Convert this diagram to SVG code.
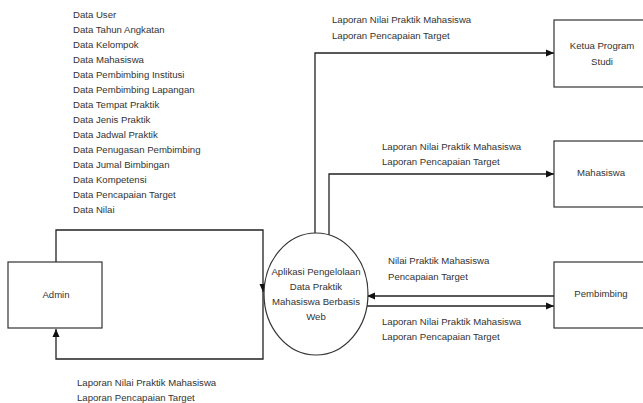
<svg xmlns="http://www.w3.org/2000/svg" width="643" height="403" viewBox="0 0 643 403">
<style>
.box{fill:#fff;stroke:#333;stroke-width:1.2}
.ln{fill:none;stroke:#222;stroke-width:1.3}
text{font-family:"Liberation Sans",Arial,sans-serif;font-size:9.6px;fill:#333}
.c{text-anchor:middle}
</style>
<defs>
<marker id="ah" markerUnits="userSpaceOnUse" markerWidth="9" markerHeight="8" refX="8" refY="4" orient="auto">
<path d="M0,0.5 L8,4 L0,7.5 Z" fill="#111"/>
</marker>
</defs>
<rect width="643" height="403" fill="#fff"/>
<g id="connectors">
<path class="ln" d="M56,262 V230 H263 V292" marker-end="url(#ah)"/>
<path class="ln" d="M263,290 V359 H56 V329" marker-end="url(#ah)"/>
<path class="ln" d="M315,233 V53 H554" marker-end="url(#ah)"/>
<path class="ln" d="M329,235 V174 H554" marker-end="url(#ah)"/>
<path class="ln" d="M554,296 H367" marker-end="url(#ah)"/>
<path class="ln" d="M367,306 H554" marker-end="url(#ah)"/>
</g>
<g id="admin">
<rect class="box" x="8" y="262" width="94" height="66"/>
<text class="c" x="56" y="298">Admin</text>
</g>
<g id="process">
<ellipse class="box" cx="316" cy="294" rx="52" ry="61"/>
<text class="c" x="316" y="275">Aplikasi Pengelolaan</text>
<text class="c" x="316" y="290">Data Praktik</text>
<text class="c" x="316" y="305">Mahasiswa Berbasis</text>
<text class="c" x="316" y="320">Web</text>
</g>
<g id="ketua">
<rect class="box" x="554" y="20" width="110" height="67"/>
<text class="c" x="602" y="49">Ketua Program</text>
<text class="c" x="602" y="65">Studi</text>
</g>
<g id="mahasiswa">
<rect class="box" x="554" y="141" width="110" height="66"/>
<text class="c" x="601" y="176">Mahasiswa</text>
</g>
<g id="pembimbing">
<rect class="box" x="554" y="262" width="110" height="66"/>
<text class="c" x="601" y="297">Pembimbing</text>
</g>
<g id="labels">
<text x="73" y="18">Data User</text>
<text x="73" y="33">Data Tahun Angkatan</text>
<text x="73" y="48">Data Kelompok</text>
<text x="73" y="63">Data Mahasiswa</text>
<text x="73" y="78">Data Pembimbing Institusi</text>
<text x="73" y="93">Data Pembimbing Lapangan</text>
<text x="73" y="108">Data Tempat Praktik</text>
<text x="73" y="123">Data Jenis Praktik</text>
<text x="73" y="138">Data Jadwal Praktik</text>
<text x="73" y="153">Data Penugasan Pembimbing</text>
<text x="73" y="168">Data Jumal Bimbingan</text>
<text x="73" y="183">Data Kompetensi</text>
<text x="73" y="198">Data Pencapaian Target</text>
<text x="73" y="213">Data Nilai</text>
<text x="332" y="23">Laporan Nilai Praktik Mahasiswa</text>
<text x="332" y="39">Laporan Pencapaian Target</text>
<text x="382" y="150">Laporan Nilai Praktik Mahasiswa</text>
<text x="382" y="165">Laporan Pencapaian Target</text>
<text x="388" y="264">Nilai Praktik Mahasiswa</text>
<text x="388" y="280">Pencapaian Target</text>
<text x="382" y="325">Laporan Nilai Praktik Mahasiswa</text>
<text x="382" y="340">Laporan Pencapaian Target</text>
<text x="77" y="386">Laporan Nilai Praktik Mahasiswa</text>
<text x="77" y="401">Laporan Pencapaian Target</text>
</g>
</svg>
